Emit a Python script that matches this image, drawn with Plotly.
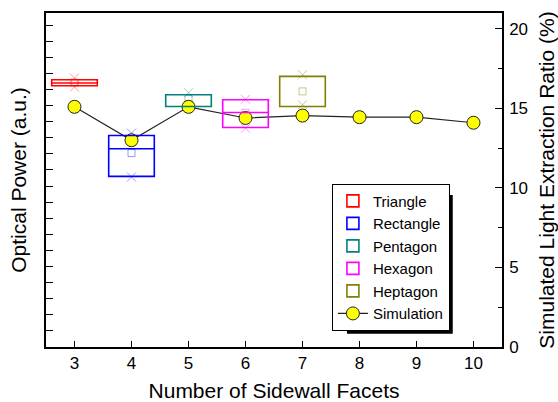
import plotly.graph_objects as go

# ---- data ----
facets = [3, 4, 5, 6, 7, 8, 9, 10]
simulation = [15.1, 13.0, 15.1, 14.4, 14.55, 14.45, 14.45, 14.1]

shape_names = ["Triangle", "Rectangle", "Pentagon", "Hexagon", "Heptagon"]
shape_x = [3, 4, 5, 6, 7]
box_q1 = [16.23, 10.60, 14.94, 13.64, 14.94]
box_median = [16.40, 12.32, 14.94, 14.57, 14.94]
box_q3 = [16.60, 13.14, 15.67, 15.36, 16.81]
box_mean = [16.43, 12.05, 15.40, 14.55, 15.88]
box_min = [16.15, 10.56, 15.00, 13.59, 15.05]
box_max = [16.71, 13.29, 15.80, 15.39, 16.91]
box_colors = ["#FF0000", "#0000FF", "#008080", "#FF00FF", "#808000"]
box_light = ["rgba(255,0,0,0.4)", "rgba(0,0,255,0.4)", "rgba(0,128,128,0.4)",
             "rgba(255,0,255,0.4)", "rgba(128,128,0,0.45)"]

x_ticks = [3, 4, 5, 6, 7, 8, 9, 10]
y2_ticks = [0, 5, 10, 15, 20]

FONT = "Liberation Sans, Arial, sans-serif"
BOX_HALF = 0.4

fig = go.Figure()

for i, name in enumerate(shape_names):
    fig.add_shape(
        type="rect", xref="x", yref="y",
        x0=shape_x[i] - BOX_HALF, x1=shape_x[i] + BOX_HALF,
        y0=box_q1[i], y1=box_q3[i],
        line=dict(color=box_colors[i], width=1.6), fillcolor="rgba(0,0,0,0)",
        name=name, showlegend=True, legendrank=i + 1, layer="above",
    )
    if box_median[i] != box_q1[i]:
        fig.add_shape(
            type="line", xref="x", yref="y",
            x0=shape_x[i] - BOX_HALF, x1=shape_x[i] + BOX_HALF,
            y0=box_median[i], y1=box_median[i],
            line=dict(color=box_colors[i], width=1.6), layer="above",
        )
    fig.add_trace(go.Scatter(
        x=[shape_x[i]], y=[box_mean[i]], mode="markers", showlegend=False,
        marker=dict(symbol="square-open", size=7, color=box_light[i],
                    line=dict(width=1, color=box_light[i])),
        hoverinfo="skip", yaxis="y",
    ))
    fig.add_trace(go.Scatter(
        x=[shape_x[i], shape_x[i]], y=[box_min[i], box_max[i]], mode="markers",
        showlegend=False,
        marker=dict(symbol="x-thin-open", size=9, color=box_light[i],
                    line=dict(width=1, color=box_light[i])),
        hoverinfo="skip", yaxis="y",
    ))

fig.add_trace(go.Scatter(
    x=facets, y=simulation, mode="lines+markers", name="Simulation",
    line=dict(color="#222222", width=1.2),
    marker=dict(symbol="circle", size=13, color="#FFFF00",
                line=dict(color="#222222", width=1)),
    yaxis="y2", legendrank=10,
))

# drop shadow behind the legend box (legend itself is drawn on top)
fig.add_shape(
    type="rect", xref="paper", yref="paper",
    x0=0.66, x1=0.892, y0=0.04, y1=0.455,
    line=dict(width=0), fillcolor="black", layer="above",
)

tick_font = dict(family=FONT, size=17, color="black")
title_font = dict(family=FONT, size=21, color="black")
fig.update_layout(
    width=558, height=402,
    margin=dict(l=46, r=56, t=13, b=55, autoexpand=False),
    paper_bgcolor="white", plot_bgcolor="white",
    font=dict(family=FONT, color="black"),
    xaxis=dict(
        range=[2.5, 10.5], tickvals=x_ticks, ticks="inside", ticklen=6,
        tickwidth=1.2, tickcolor="black", showline=True, linecolor="black",
        linewidth=1.5, mirror=True, showgrid=False, zeroline=False,
        tickfont=tick_font, automargin=False,
        title=dict(text="Number of Sidewall Facets", font=title_font, standoff=13),
    ),
    yaxis=dict(
        range=[0, 20.75], dtick=1, tick0=0, ticks="inside", ticklen=7,
        tickwidth=1.2, tickcolor="black", showticklabels=False,
        showline=True, linecolor="black", linewidth=1.5,
        showgrid=False, zeroline=False, automargin=False,
        title=dict(text="Optical Power (a.u.)", font=title_font, standoff=12),
    ),
    yaxis2=dict(
        range=[0, 21], tickvals=y2_ticks, overlaying="y", side="right",
        ticks="inside", ticklen=7, tickwidth=1.2, tickcolor="black",
        minor=dict(dtick=2.5, tick0=0, ticks="inside", ticklen=4,
                   tickcolor="black", tickwidth=1.2),
        showline=True, linecolor="black", linewidth=1.5, automargin=False,
        showgrid=False, zeroline=False, tickfont=tick_font, ticklabelstandoff=2,
        title=dict(text="Simulated Light Extraction Ratio (%)",
                   font=title_font, standoff=12),
    ),
    legend=dict(
        x=0.627, y=0.489, xanchor="left", yanchor="top",
        bgcolor="white", bordercolor="black", borderwidth=1,
        font=dict(family=FONT, size=15, color="black"),
        tracegroupgap=0, itemwidth=30,
    ),
    showlegend=True,
)

fig.write_html("out.html")
